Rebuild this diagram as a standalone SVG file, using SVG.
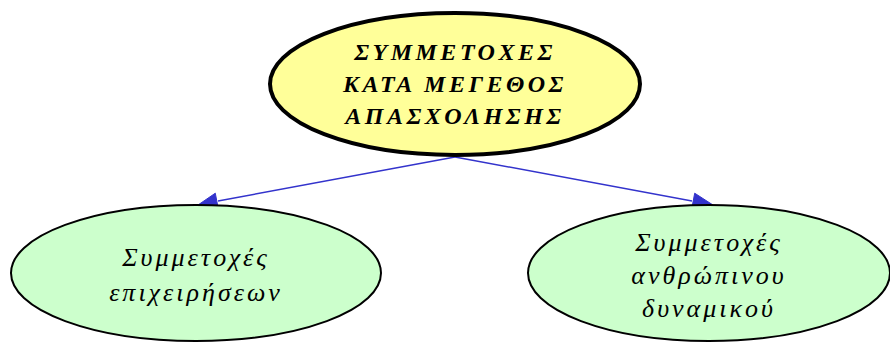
<svg xmlns="http://www.w3.org/2000/svg" width="890" height="342" viewBox="0 0 890 342">
<style>
.t{font-family:"Liberation Serif","DejaVu Serif",serif;font-style:italic;text-anchor:middle;fill:#000}
.top{font-size:24px;font-weight:bold;letter-spacing:3.5px}
.sub{font-size:26px;letter-spacing:3px}
.leaf{fill:#ccffcc;stroke:#000;stroke-width:2}
.edge{stroke:#3333cc;stroke-width:1.5;fill:none}
.head{fill:#3333cc;stroke:#3333cc;stroke-width:1}
</style>
<g id="connectors">
<line class="edge" x1="455" y1="157" x2="218" y2="201"/>
<polygon class="head" points="198,205 215.3,193.2 218.7,211.0"/>
<line class="edge" x1="455" y1="157" x2="692" y2="201"/>
<polygon class="head" points="713,205 691.3,211.0 694.7,193.2"/>
</g>
<g id="root">
<ellipse cx="455" cy="84" rx="185" ry="71" fill="#ffff99" stroke="#000" stroke-width="4"/>
<text class="t top" x="455" y="60">ΣΥΜΜΕΤΟΧΕΣ</text>
<text class="t top" x="455" y="92">ΚΑΤΑ ΜΕΓΕΘΟΣ</text>
<text class="t top" x="455" y="124">ΑΠΑΣΧΟΛΗΣΗΣ</text>
</g>
<g id="left">
<ellipse class="leaf" cx="196" cy="273" rx="185" ry="68"/>
<text class="t sub" x="196" y="266">Συμμετοχές</text>
<text class="t sub" x="196" y="301">επιχειρήσεων</text>
</g>
<g id="right">
<ellipse class="leaf" cx="709" cy="273" rx="181" ry="68"/>
<text class="t sub" x="709" y="251">Συμμετοχές</text>
<text class="t sub" x="709" y="284">ανθρώπινου</text>
<text class="t sub" x="709" y="317">δυναμικού</text>
</g>
</svg>
